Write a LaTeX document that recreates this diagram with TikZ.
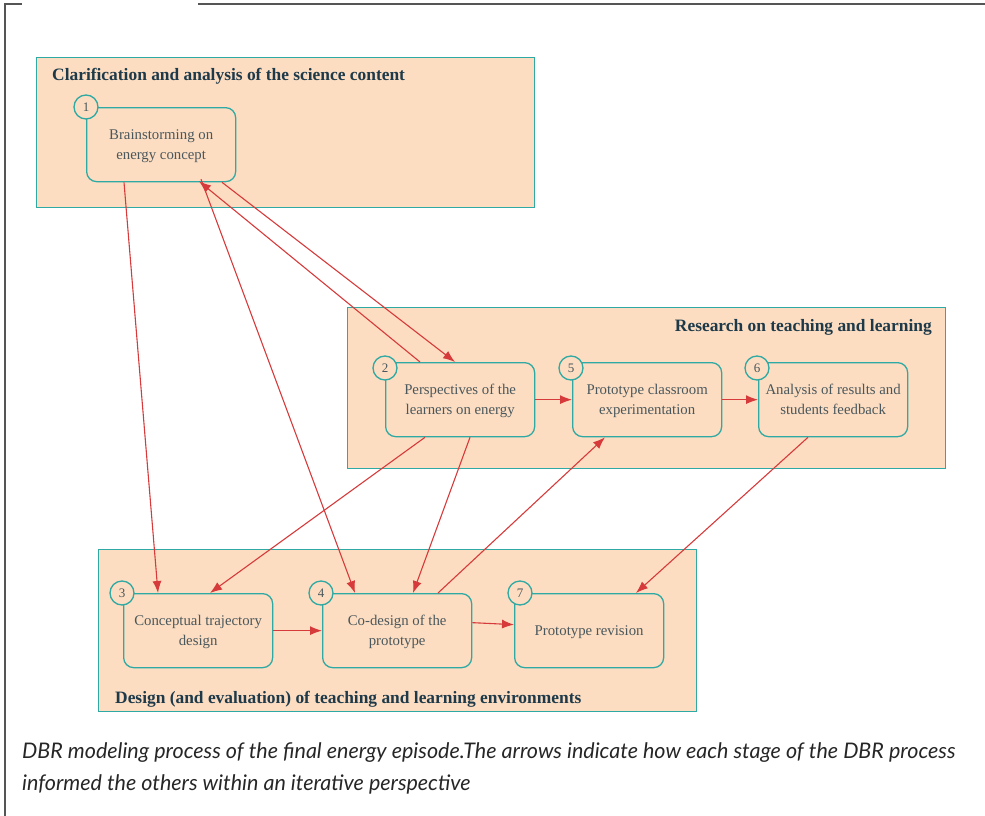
\documentclass[tikz,border=0pt]{standalone}
\usepackage{fontspec}
\setmainfont{Liberation Serif}
\newfontfamily\capfont{Lato}
\usetikzlibrary{arrows.meta}
\definecolor{peach}{HTML}{FCDDC1}
\definecolor{teal}{HTML}{2FA9A3}
\definecolor{titlecol}{HTML}{1E3A4A}
\definecolor{textcol}{HTML}{4A575C}
\definecolor{arrowred}{HTML}{D63A3A}
\definecolor{framecol}{HTML}{555555}
\tikzset{
  group/.style={draw=teal, fill=peach, line width=1.2pt, inner sep=0pt, anchor=north west},
  grouptitle/.style={font=\fontsize{17.4}{20}\selectfont\bfseries, text=titlecol, inner sep=0pt},
  stage/.style={draw=teal, fill=peach, line width=1.3pt, rounded corners=10pt,
    minimum width=149pt, minimum height=74pt, inner sep=2pt, align=center,
    text=textcol, font=\fontsize{14.8}{20}\selectfont, anchor=north west,
    text depth=-6pt},
  oneline/.style={text depth=-2pt},
  num/.style={circle, draw=teal, fill=peach, line width=1.3pt, minimum size=24pt,
    inner sep=0pt, text=textcol, font=\fontsize{13}{14}\selectfont},
  flow/.style={draw=arrowred, line width=1.1pt, -{Latex[length=12pt,width=9pt]}},
  frame/.style={draw=framecol, line width=1.4pt}
}
\begin{document}
\begin{tikzpicture}[x=1pt, y=-1pt]
\useasboundingbox (0,0) rectangle (985,816);

% outer figure frame
\coordinate (fa) at (5,816);
\coordinate (fb) at (5,4);
\coordinate (fc) at (22,4);
\coordinate (fd) at (198,4);
\coordinate (fe) at (985,4);
\draw[frame] (fa) -- (fb) -- (fc);
\draw[frame] (fd) -- (fe);

% group panels
\node[group, minimum width=498pt, minimum height=150pt] (gA) at (36,57) {};
\node[group, minimum width=598pt, minimum height=161pt] (gB) at (347,307) {};
\node[group, minimum width=598pt, minimum height=162pt] (gC) at (98,549) {};
\node[grouptitle, anchor=base west] (tA) at (52,81) {Clarification and analysis of the science content};
\node[grouptitle, anchor=base east] (tB) at (932,331) {Research on teaching and learning};
\node[grouptitle, anchor=base west] (tC) at (115,703) {Design (and evaluation) of teaching and learning environments};

% stages
\node[stage] (n1) at (86,107) {Brainstorming on\\energy concept};
\node[stage] (n2) at (385,362) {Perspectives of the\\learners on energy};
\node[stage] (n5) at (572,362) {Prototype classroom\\experimentation};
\node[stage] (n6) at (758,362) {Analysis of results and\\students feedback};
\node[stage] (n3) at (123,593) {Conceptual trajectory\\design};
\node[stage] (n4) at (322,593) {Co-design of the\\prototype};
\node[stage, oneline] (n7) at (514,593) {Prototype revision};

% stage numbers
\node[num] (c1) at ([shift={(0,0)}]n1.north west) {1};
\node[num] (c2) at ([shift={(0,6)}]n2.north west) {2};
\node[num] (c5) at ([shift={(-1,6)}]n5.north west) {5};
\node[num] (c6) at ([shift={(-1,6)}]n6.north west) {6};
\node[num] (c3) at ([shift={(-1,0)}]n3.north west) {3};
\node[num] (c4) at ([shift={(-1,0)}]n4.north west) {4};
\node[num] (c7) at ([shift={(6,0)}]n7.north west) {7};

% connections between stages
\draw[flow] ([xshift=38pt]n1.south west) -- ([xshift=35pt]n3.north west);
\draw[flow] ([xshift=35pt]n2.north west) -- ([xshift=113pt,yshift=1pt]n1.south west);
\draw[flow] ([xshift=115pt,yshift=3pt]n1.south west) -- ([xshift=33pt]n4.north west);
\draw[flow] ([xshift=136pt]n1.south west) -- ([xshift=70pt]n2.north west);
\draw[flow] ([xshift=40pt]n2.south west) -- ([xshift=87pt]n3.north west);
\draw[flow] ([xshift=85pt]n2.south west) -- ([xshift=91pt]n4.north west);
\draw[flow] ([xshift=116pt]n4.north west) -- ([xshift=33pt]n5.south west);
\draw[flow] ([xshift=50pt]n6.south west) -- ([xshift=122pt]n7.north west);
\draw[flow] (n2.east) -- (n5.west);
\draw[flow] (n5.east) -- (n6.west);
\draw[flow] (n3.east) -- (n4.west);
\draw[flow] ([yshift=8pt]n4.east) -- ([yshift=6pt]n7.west);

% caption
\node[anchor=base west, inner sep=0pt, align=left, text=black!85,
  font=\capfont\itshape\fontsize{21.5}{32}\selectfont] (cap) at (22,790)
  {DBR modeling process of the final energy episode.The arrows indicate how each stage of the DBR process\\informed the others within an iterative perspective};
\end{tikzpicture}
\end{document}
